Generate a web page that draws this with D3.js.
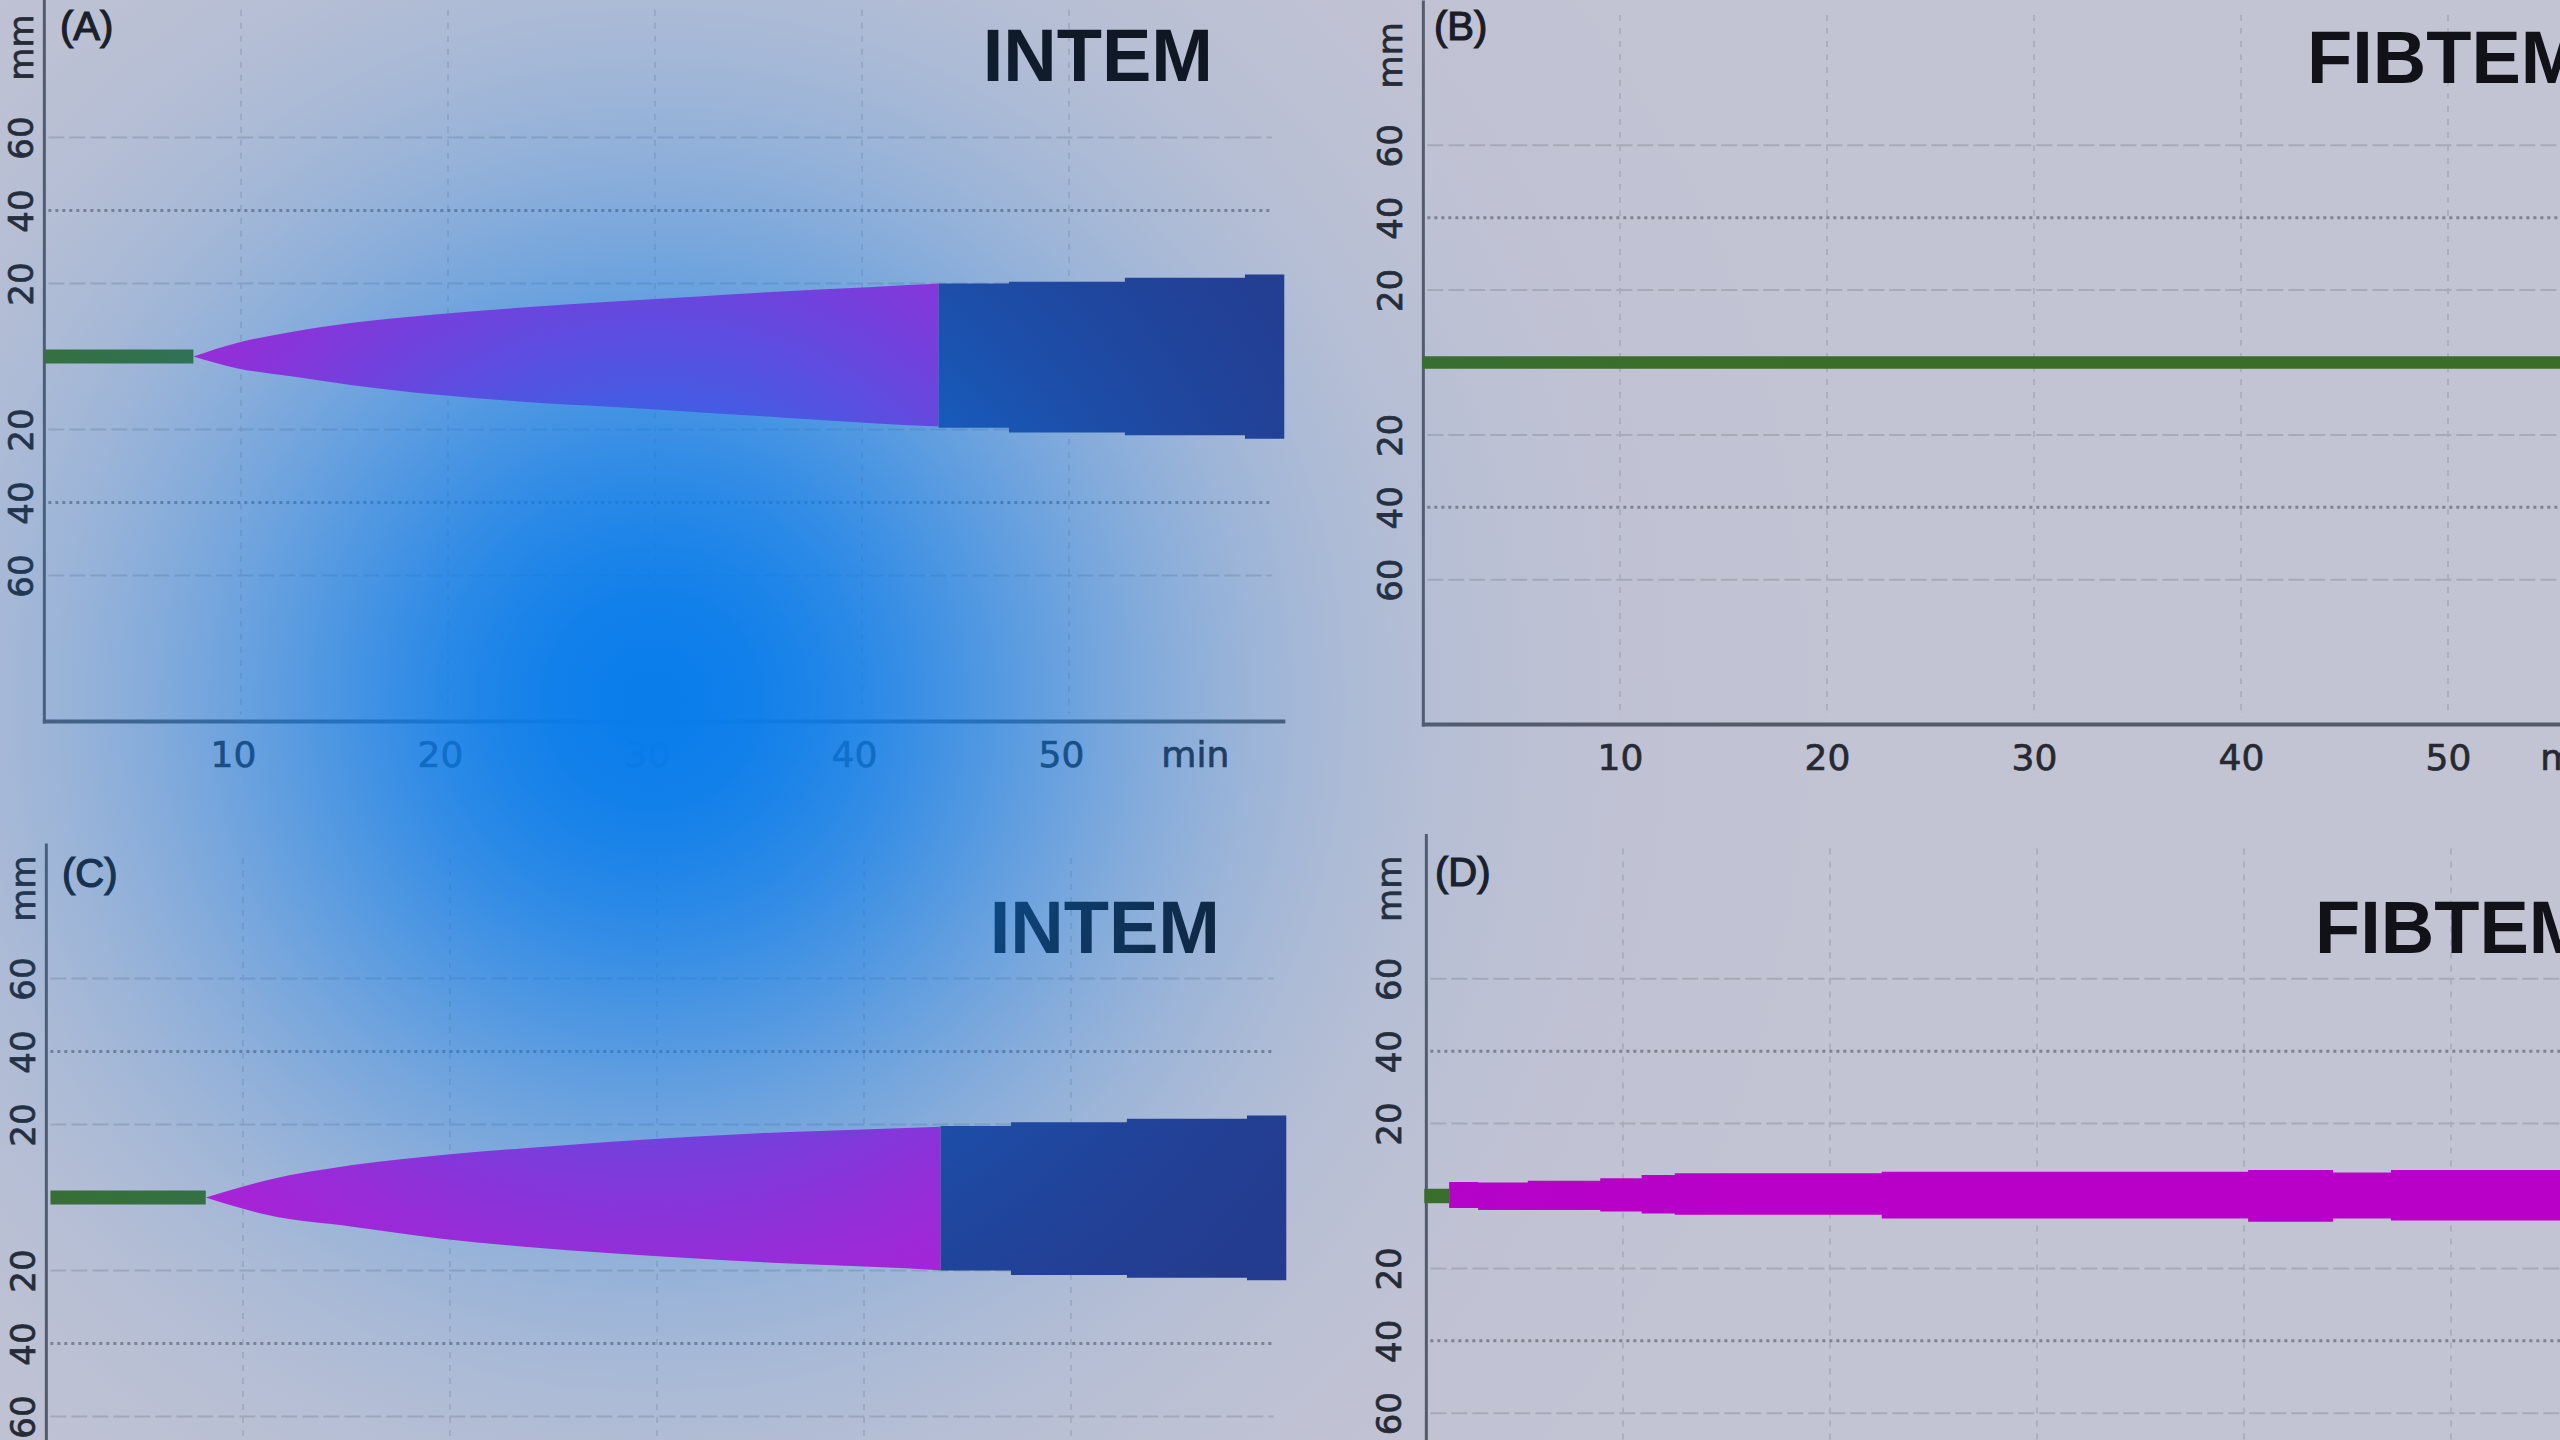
<!DOCTYPE html>
<html><head><meta charset="utf-8">
<script src="https://cdn.jsdelivr.net/npm/d3@7"></script>
<style>html,body{margin:0;padding:0;background:#c2c3d3;overflow:hidden}</style>
</head><body>
<svg id="chart" width="2560" height="1440"></svg>
<script>
// ---------------- DATA ----------------
const xTicks = [10, 20, 30, 40, 50];
const xUnit = "min";
const yTicks = [60, 40, 20, -20, -40, -60];
const yTickLabels = ["60", "40", "20", "20", "40", "60"];
const yUnit = "mm";
const panelLabels = ["(A)", "(B)", "(C)", "(D)"];
const panelTitles = ["INTEM", "FIBTEM", "INTEM", "FIBTEM"];

// Panel A – INTEM
const ctTimesA = [0.5, 7.7];
const ctAmpA = 1.9;
const cftTimesA = [7.7, 9.8, 12.5, 15.3, 19.5, 23.6, 27.8, 31.9, 36.1, 40.3, 43.7];
const cftUpperA = [0, 3.7, 6.8, 9.2, 11.6, 13.4, 15.0, 16.4, 17.8, 19.0, 19.9];
const cftLowerA = [0, 3.2, 5.5, 7.8, 10.5, 12.4, 13.8, 15.2, 16.7, 18.2, 19.2];
const mcfTimesA = [43.7, 47.1, 52.7, 58.5, 60.4];
const mcfUpperA = [20.0, 20.5, 21.6, 22.5, 22.5];
const mcfLowerA = [19.5, 20.8, 21.6, 22.5, 22.5];

// Panel B – FIBTEM (flat line)
const ctTimesB = [0.45, 61.5];
const ctAmpB = 1.7;

// Panel C – INTEM
const ctTimesC = [0.7, 8.2];
const ctAmpC = 1.9;
const cftTimesC = [8.2, 11.2, 15.3, 19.5, 23.6, 27.8, 31.9, 36.1, 40.3, 43.7];
const cftUpperC = [0, 4.8, 8.9, 11.6, 13.5, 15.3, 16.7, 17.9, 18.7, 19.4];
const cftLowerC = [0, 4.8, 8.0, 11.2, 13.5, 15.3, 16.7, 18.0, 19.0, 19.9];
const mcfTimesC = [43.7, 47.1, 52.7, 58.5, 60.4];
const mcfUpperC = [19.6, 20.6, 21.6, 22.5, 22.5];
const mcfLowerC = [20.0, 21.2, 22.0, 22.7, 22.7];

// Panel D – FIBTEM
const ctTimesD = [0.4, 1.6];
const ctAmpD = 2.0;
const bandTimesD = [1.6, 3.0, 5.4, 8.9, 10.9, 12.5, 22.5, 40.2, 44.3, 47.1, 61.5];
const bandUpperD = [3.9, 3.7, 4.2, 4.9, 5.8, 6.3, 6.7, 7.2, 6.5, 7.2, 7.2];
const bandLowerD = [3.3, 3.9, 3.9, 4.3, 4.8, 5.2, 6.2, 7.1, 6.2, 6.8, 6.8];

// ---------------- LAYOUT ----------------
const W = 2560, H = 1440;
const svg = d3.select("#chart");
const defs = svg.append("defs");

svg.append("rect").attr("width", W).attr("height", H).attr("fill", "#c2c3d3");

const COL = {
  green: "#3a6e28",
  spindle: "#c412d2",
  block: "#25388a",
  band: "#b800c8",
  axis: "#555a68",
  text: "#262932"
};

function zip(ts, up, lo) { return ts.map((t, i) => ({ t: t, up: up[i], lo: lo[i] })); }

const panels = [
  { label: panelLabels[0], title: panelTitles[0], x0: 34, kx: 20.7, cy: 356.5, ky: 3.65, yTop: 99, tickDx: -8,
    labX: 33, labelPos: [60, 40], titleEnd: 1213, titleY: 81, showX: true,
    ct: [ctTimesA, ctAmpA], cft: zip(cftTimesA, cftUpperA, cftLowerA), mcf: zip(mcfTimesA, mcfUpperA, mcfLowerA) },
  { label: panelLabels[1], title: panelTitles[1], x0: 1413, kx: 20.7, cy: 362.5, ky: 3.62, yTop: 100, tickDx: 0,
    labX: 1402, labelPos: [1434, 40], titleStart: 2307, titleY: 83, showX: true,
    ct: [ctTimesB, ctAmpB] },
  { label: panelLabels[2], title: panelTitles[2], x0: 36, kx: 20.7, cy: 1197.5, ky: 3.65, yTop: 97, tickDx: -8,
    labX: 35, labelPos: [62, 887], titleEnd: 1220, titleY: 953, showX: false,
    ct: [ctTimesC, ctAmpC], cft: zip(cftTimesC, cftUpperC, cftLowerC), mcf: zip(mcfTimesC, mcfUpperC, mcfLowerC) },
  { label: panelLabels[3], title: panelTitles[3], x0: 1416, kx: 20.7, cy: 1196, ky: 3.62, yTop: 100, tickDx: 0,
    labX: 1401, labelPos: [1435, 886], titleStart: 2315, titleY: 953, showX: false,
    ct: [ctTimesD, ctAmpD], band: zip(bandTimesD, bandUpperD, bandLowerD) }
];

panels.forEach(p => {
  const x = d3.scaleLinear().domain([0, 60]).range([p.x0, p.x0 + 60 * p.kx]);
  const y = d3.scaleLinear().domain([-100, 100]).range([p.cy + 100 * p.ky, p.cy - 100 * p.ky]);
  const g = svg.append("g");
  const tStart = 0.5, tEnd = 60.45;

  // vertical grid lines
  g.append("g").selectAll("line").data(xTicks).join("line")
    .attr("x1", d => x(d)).attr("x2", d => x(d))
    .attr("y1", y(p.yTop - 4)).attr("y2", y(-98))
    .attr("stroke", "#a9abba").attr("stroke-width", 1.6).attr("stroke-dasharray", "6,7");

  // horizontal grid lines
  g.append("g").selectAll("line").data(yTicks).join("line")
    .attr("x1", x(tStart) + 4).attr("x2", x(59.8))
    .attr("y1", d => y(d)).attr("y2", d => y(d))
    .attr("stroke", d => Math.abs(d) === 40 ? "#7f8290" : "#a8aab8")
    .attr("stroke-width", d => Math.abs(d) === 40 ? 3 : 2)
    .attr("stroke-dasharray", d => Math.abs(d) === 40 ? "3,4" : "16,5");

  // y axis labels (rotated)
  const yAxis = d3.axisLeft(y).tickValues(yTicks).tickSize(0).tickFormat((d, i) => yTickLabels[i]);
  const ya = g.append("g").attr("transform", `translate(${p.labX},0)`).call(yAxis);
  ya.select(".domain").remove();
  ya.selectAll(".tick text")
    .attr("x", 0).attr("y", 0).attr("dy", 0)
    .attr("transform", "rotate(-90)")
    .attr("text-anchor", "middle")
    .attr("font-family", "DejaVu Sans").attr("font-size", 34).attr("fill", COL.text)
    .attr("stroke", COL.text).attr("stroke-width", 0.7);
  g.append("text")
    .attr("transform", `translate(${p.labX},${y(60) - 90}) rotate(-90)`)
    .attr("text-anchor", "middle")
    .attr("font-family", "DejaVu Sans").attr("font-size", 34).attr("fill", COL.text)
    .attr("stroke", COL.text).attr("stroke-width", 0.7)
    .text(yUnit);

  // x axis labels
  if (p.showX) {
    const xAxis = d3.axisBottom(x).tickValues(xTicks).tickSize(0).tickPadding(0);
    const xa = g.append("g").attr("transform", `translate(0,${y(-100)})`).call(xAxis);
    xa.select(".domain").remove();
    xa.selectAll("text")
      .attr("y", 45).attr("dy", 0).attr("dx", p.tickDx)
      .attr("font-family", "DejaVu Sans").attr("font-size", 36).attr("fill", COL.text)
      .attr("stroke", COL.text).attr("stroke-width", 0.7);
    g.append("text")
      .attr("x", x(56.1)).attr("y", y(-100) + 45)
      .attr("text-anchor", "middle")
      .attr("font-family", "DejaVu Sans").attr("font-size", 36).attr("fill", COL.text)
      .attr("stroke", COL.text).attr("stroke-width", 0.7)
      .text(xUnit);
    g.append("line")
      .attr("x1", x(tStart) - 1.5).attr("x2", x(tEnd))
      .attr("y1", y(-100)).attr("y2", y(-100))
      .attr("stroke", COL.axis).attr("stroke-width", 4);
  }
  // y axis line
  g.append("line")
    .attr("x1", x(tStart)).attr("x2", x(tStart))
    .attr("y1", y(p.yTop)).attr("y2", y(-100) + 2)
    .attr("stroke", COL.axis).attr("stroke-width", 3);

  // panel label
  g.append("text").attr("x", p.labelPos[0]).attr("y", p.labelPos[1])
    .attr("font-family", "Liberation Sans").attr("font-size", 40).attr("fill", "#1a1c24")
    .attr("stroke", "#1a1c24").attr("stroke-width", 1.2)
    .text(p.label);

  // title
  const tt = g.append("text").attr("y", p.titleY)
    .attr("font-family", "Liberation Sans").attr("font-weight", "bold").attr("font-size", 74)
    .attr("fill", "#101218").text(p.title);
  if (p.titleEnd !== undefined) tt.attr("x", p.titleEnd).attr("text-anchor", "end");
  else tt.attr("x", p.titleStart);

  // ----- data marks -----
  const area = d3.area().x(d => x(d.t)).y0(d => y(-d.lo)).y1(d => y(d.up));
  const ctData = p.ct[0].map(t => ({ t: t, up: p.ct[1], lo: p.ct[1] }));
  g.append("path").datum(ctData).attr("d", area).attr("fill", COL.green);

  if (p.cft) {
    g.append("path").datum(p.cft).attr("d", area.curve(d3.curveMonotoneX)).attr("fill", COL.spindle);
  }
  if (p.mcf) {
    g.append("path").datum(p.mcf).attr("d", area.curve(d3.curveStepAfter)).attr("fill", COL.block);
  }
  if (p.band) {
    g.append("path").datum(p.band).attr("d", area.curve(d3.curveStepAfter)).attr("fill", COL.band);
  }
});

// ---------------- blue glow overlay ----------------
const glowR = 1400, glowS = 480;
const grad = defs.append("radialGradient").attr("id", "glow")
  .attr("gradientUnits", "userSpaceOnUse")
  .attr("cx", 653).attr("cy", 700).attr("r", glowR);
grad.selectAll("stop").data(d3.range(0, 41)).join("stop")
  .attr("offset", i => i / 40)
  .attr("stop-color", "rgb(10,125,235)")
  .attr("stop-opacity", i => Math.exp(-Math.pow((i / 40) * glowR / glowS, 2)));
svg.append("rect").attr("width", W).attr("height", H).attr("fill", "url(#glow)")
  .attr("pointer-events", "none");
</script>
</body></html>
